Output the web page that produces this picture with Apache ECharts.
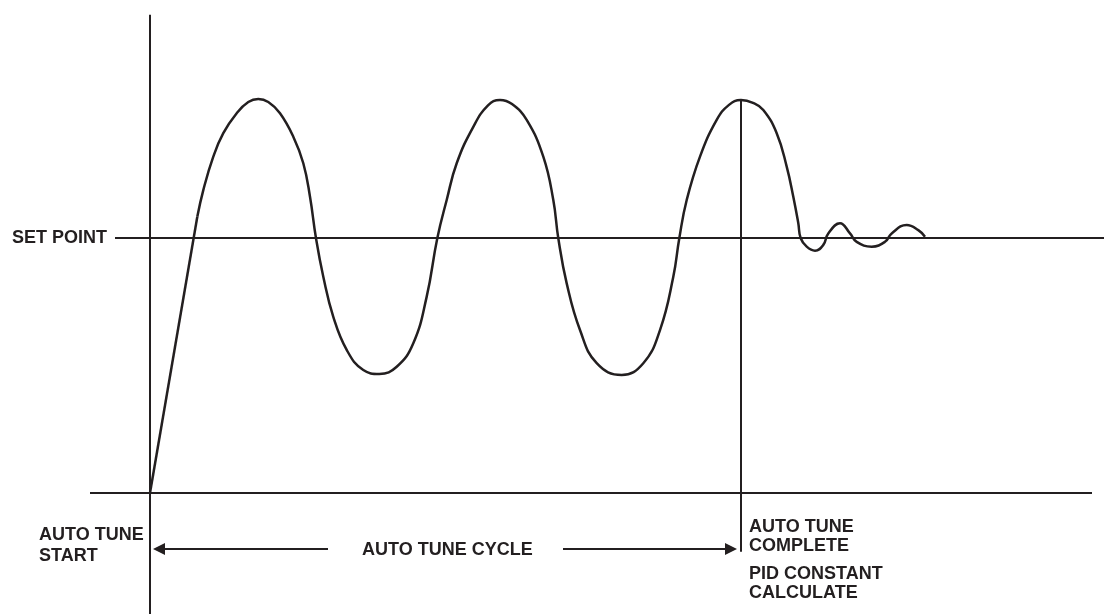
<!DOCTYPE html>
<html>
<head>
<meta charset="utf-8">
<script src="https://cdn.jsdelivr.net/npm/echarts@6/dist/echarts.min.js"></script>
<style>
html,body{margin:0;padding:0;background:#fff;}
#container{width:1104px;height:614px;}
</style>
</head>
<body>
<div id="container"></div>
<script>
// t = time units, pv = process value in % of set point
var rampT = [0, 23.65];
var rampPV = [0, 108.3];
var waveT = [23.65, 26.65, 31.65, 36.65, 43.35, 49.15, 54.15, 59.15, 65, 71.65, 76.65, 80, 83, 86.65, 91.65, 98.35, 106.65, 114.65,
    123.35, 131.65, 138.35, 143.65, 148.35, 153.35, 161.65, 169, 175, 181, 188.35, 196.65, 201.65, 204.15, 208.35, 215, 223.35,
    235.85, 246.65, 255, 261.65, 264.65, 268.35, 275, 283.35, 289.5, 295.5, 301.5, 306.65, 313.35, 318.35, 321.65, 324.15, 325.35,
    328.35, 332.5, 336.65, 339.15, 345, 350, 353.35, 360.85, 367.5, 370.85, 378.35, 384.15, 387.5];
var wavePV = [108.3, 118.8, 131.9, 141.1, 148.9, 153.3, 154.5, 153.3, 148.9, 139.7, 129.3, 116.2, 99.9, 84.8, 69.1, 56.1, 48.2, 46.7,
    49.5, 58.7, 77.0, 99.9, 114.9, 129.3, 143.6, 152.0, 154.1, 152.5, 146.3, 131.9, 114.9, 99.9, 82.2, 63.9, 50.9,
    46.3, 50.9, 63.9, 84.8, 99.9, 114.9, 131.9, 146.3, 152.2, 154.1, 153.0, 150.2, 141.1, 128.0, 116.2, 105.8, 99.9,
    96.6, 95.0, 97.3, 101.8, 105.8, 101.8, 98.5, 96.6, 98.5, 101.8, 105.1, 103.1, 100.5];

var setPoint = 100;
var setPointT = [-17.5, 477];
var baseT = [-30, 471];
var startT = 0;
var startPV = [-47.5, 187.5];
var completeT = 295.5;
var completePV = [-23, 154.1];
var arrowPV = -22;
var arrowLeftT = [89, 4.5];
var arrowRightT = [206.5, 290.5];

var ink = '#231f20';
var font = 'bold 18px "Liberation Sans", Arial, sans-serif';

function pairs(xs, ys) {
    var out = [];
    for (var i = 0; i < xs.length; i++) out.push([xs[i], ys[i]]);
    return out;
}
function plain(name, data, width) {
    return {
        name: name, type: 'line', data: data, symbol: 'none', smooth: false,
        lineStyle: {color: ink, width: width || 2}, silent: true, z: 2
    };
}
function txt(s, x, y) {
    return {type: 'text', x: x, y: y, style: {text: s, font: font, fill: ink, verticalAlign: 'middle'}};
}

var myChart = echarts.init(document.getElementById('container'));
var option = {
    animation: false,
    color: [ink],
    grid: {left: 0, right: 0, top: 0, bottom: 0},
    xAxis: {type: 'value', min: -75, max: 477, show: false},
    yAxis: {type: 'value', min: -47.45, max: 193.33, show: false},
    series: [
        plain('base', pairs(baseT, [0, 0])),
        plain('set point', pairs(setPointT, [setPoint, setPoint])),
        plain('start', pairs([startT, startT], startPV)),
        plain('complete', pairs([completeT, completeT], completePV)),
        plain('ramp', pairs(rampT, rampPV), 2.5),
        {
            name: 'pv', type: 'line', data: pairs(waveT, wavePV), symbol: 'none', smooth: 0.45,
            lineStyle: {color: ink, width: 2.5}, silent: true, z: 3
        },
        {
            name: 'cycle', type: 'line', data: [], silent: true,
            markLine: {
                silent: true, symbol: ['none', 'triangle'], symbolSize: 12,
                itemStyle: {color: ink},
                lineStyle: {color: ink, width: 2, type: 'solid'}, label: {show: false},
                data: [
                    [{coord: [arrowLeftT[0], arrowPV]}, {coord: [arrowLeftT[1], arrowPV]}],
                    [{coord: [arrowRightT[0], arrowPV]}, {coord: [arrowRightT[1], arrowPV]}]
                ]
            }
        }
    ],
    graphic: [
        txt('SET POINT', 12, 238),
        txt('AUTO TUNE', 39, 535),
        txt('START', 39, 556),
        txt('AUTO TUNE CYCLE', 362, 550),
        txt('AUTO TUNE', 749, 527),
        txt('COMPLETE', 749, 546),
        txt('PID CONSTANT', 749, 574),
        txt('CALCULATE', 749, 593)
    ]
};
myChart.setOption(option);
</script>
</body>
</html>
